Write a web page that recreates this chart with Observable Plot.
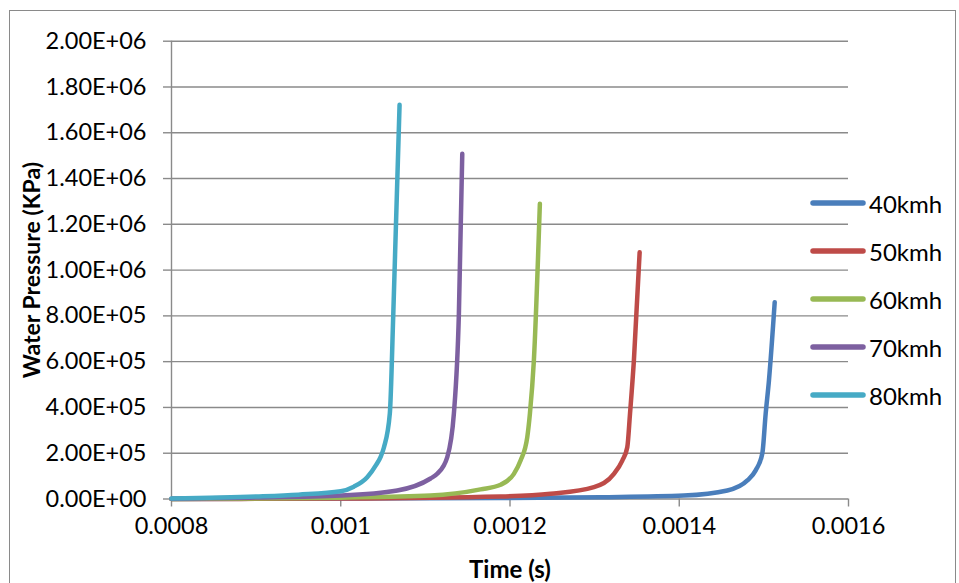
<!DOCTYPE html>
<html>
<head>
<meta charset="utf-8">
<script src="https://cdn.jsdelivr.net/npm/d3@7"></script>
<script src="https://cdn.jsdelivr.net/npm/@observablehq/plot@0.6"></script>
<style>
  html, body { margin: 0; padding: 0; background: #fff; }
  #wrap { position: relative; width: 959px; height: 583px; overflow: hidden; font-family: Lato, sans-serif; }
  #border { position: absolute; left: 9px; top: 10px; width: 947px; height: 640px; border: 1px solid #8a8a8a; box-sizing: border-box; }
  #legend { position: absolute; left: 0; top: 0; }
  .lg { position: absolute; left: 810px; height: 30px; display: flex; align-items: center; }
  .lg svg { display: block; }
  .lg span { font-size: 24px; color: #000; margin-left: 3px; }
</style>
</head>
<body>
<div id="wrap">
  <div id="border"></div>
  <div id="chart"></div>
  <div id="legend"></div>
</div>
<script>
// ---- data ----
const seriesNames = ["40kmh", "50kmh", "60kmh", "70kmh", "80kmh"];
const seriesColors = ["#4a7ebb", "#be4b48", "#98b954", "#7d60a0", "#46aac5"];

const t40 = [0.0008, 0.001189, 0.001307, 0.0014055, 0.0014568, 0.0014805, 0.0014903, 0.0014982, 0.0015021, 0.001506, 0.0015128];
const p40 = [0, 4e3, 8e3, 1.5e4, 3.7e4, 8.1e4, 1.25e5, 2.0e5, 3.72e5, 5.18e5, 8.6e5];

const t50 = [0.0008, 0.001, 0.0011889, 0.001248, 0.0012992, 0.0013228, 0.0013327, 0.0013386, 0.0013418, 0.0013464, 0.0013532];
const p50 = [0, 2e3, 1.1e4, 2.3e4, 5.2e4, 1.1e5, 1.68e5, 2.26e5, 3.72e5, 6.05e5, 1.078e6];

const t60 = [0.0008, 0.001, 0.0011061, 0.0011652, 0.0011889, 0.0012046, 0.0012125, 0.0012204, 0.0012235, 0.0012282, 0.0012353];
const p60 = [0, 6e3, 1.5e4, 4.2e4, 6.2e4, 1.1e5, 1.68e5, 2.7e5, 3.72e5, 6.05e5, 1.29e6];

const t70 = [0.0008, 0.000893, 0.001, 0.0010668, 0.0011061, 0.001114, 0.0011259, 0.0011337, 0.0011396, 0.0011436];
const p70 = [1e3, 6e3, 1.5e4, 3.7e4, 8.96e4, 1.1e5, 1.83e5, 3.74e5, 8.1e5, 1.508e6];

const t80 = [0.0008, 0.0009, 0.00095, 0.001, 0.0010155, 0.0010313, 0.001042, 0.001047, 0.001051, 0.001058, 0.0010621, 0.0010695];
const p80 = [2e3, 1.1e4, 1.9e4, 3.4e4, 5.4e4, 9.5e4, 1.5e5, 1.83e5, 2.25e5, 3.74e5, 8.1e5, 1.722e6];

const xTicks = [0.0008, 0.001, 0.0012, 0.0014, 0.0016];
const xTickLabels = ["0.0008", "0.001", "0.0012", "0.0014", "0.0016"];
const yTicks = [0, 2e5, 4e5, 6e5, 8e5, 1e6, 1.2e6, 1.4e6, 1.6e6, 1.8e6, 2e6];

const xTitle = "Time (s)";
const yTitle = "Water Pressure (KPa)";

// ---- build table ----
const allT = [t40, t50, t60, t70, t80];
const allP = [p40, p50, p60, p70, p80];
const rows = [];
seriesNames.forEach((name, i) => {
  allT[i].forEach((t, j) => rows.push({series: name, t, p: allP[i][j]}));
});

function fmtE(d) {
  const [m, e] = d.toExponential(2).split("e");
  const sign = e[0] === "-" ? "-" : "+";
  const digits = e.replace(/^[+-]/, "").padStart(2, "0");
  return m + "E" + sign + digits;
}

const gridColor = "#8a8a8a";

const chart = Plot.plot({
  width: 959,
  height: 583,
  marginLeft: 171,
  marginRight: 111,
  marginTop: 40.7,
  marginBottom: 84.5,
  style: {fontFamily: "Lato, sans-serif", color: "#000", background: "transparent", overflow: "visible"},
  x: {domain: [0.0008, 0.0016]},
  y: {domain: [0, 2e6]},
  color: {domain: seriesNames, range: seriesColors},
  marks: [
    Plot.ruleY(yTicks.filter(d => d > 0), {stroke: gridColor, strokeWidth: 1.4}),
    Plot.axisY({
      ticks: yTicks, tickFormat: fmtE, tickSize: 8, tickPadding: 17,
      stroke: gridColor, strokeWidth: 1.4, fill: "#000", fontSize: 23.5, label: null
    }),
    Plot.axisY({
      ticks: [], label: yTitle, labelArrow: "none", labelAnchor: "center", labelOffset: 148,
      fontSize: 23, fontWeight: "bold", fill: "#000"
    }),
    Plot.axisX({
      ticks: xTicks, tickFormat: (d, i) => xTickLabels[i], tickSize: 8, tickPadding: 10,
      stroke: gridColor, strokeWidth: 1.4, fill: "#000", fontSize: 23.5, label: null
    }),
    Plot.axisX({
      ticks: [], label: xTitle, labelArrow: "none", labelAnchor: "center", labelOffset: 79,
      fontSize: 24, fontWeight: "bold", fill: "#000"
    }),
    Plot.ruleX([0.0008], {stroke: gridColor, strokeWidth: 1.4}),
    Plot.ruleY([0], {stroke: gridColor, strokeWidth: 1.4}),
    Plot.line(rows, {
      x: "t", y: "p", z: "series", stroke: "series",
      strokeWidth: 4.5, strokeLinecap: "round", strokeLinejoin: "round",
      curve: "monotone-x"
    })
  ]
});
document.getElementById("chart").appendChild(chart);

// ---- legend ----
const legend = document.getElementById("legend");
const legendTop = [203, 251, 299, 347, 395];
seriesNames.forEach((name, i) => {
  const div = document.createElement("div");
  div.className = "lg";
  div.style.top = (legendTop[i] - 15) + "px";
  div.innerHTML = `<svg width="56" height="10"><line x1="3" y1="5" x2="53" y2="5" stroke="${seriesColors[i]}" stroke-width="5.5" stroke-linecap="round"/></svg><span>${name}</span>`;
  legend.appendChild(div);
});
</script>
</body>
</html>
